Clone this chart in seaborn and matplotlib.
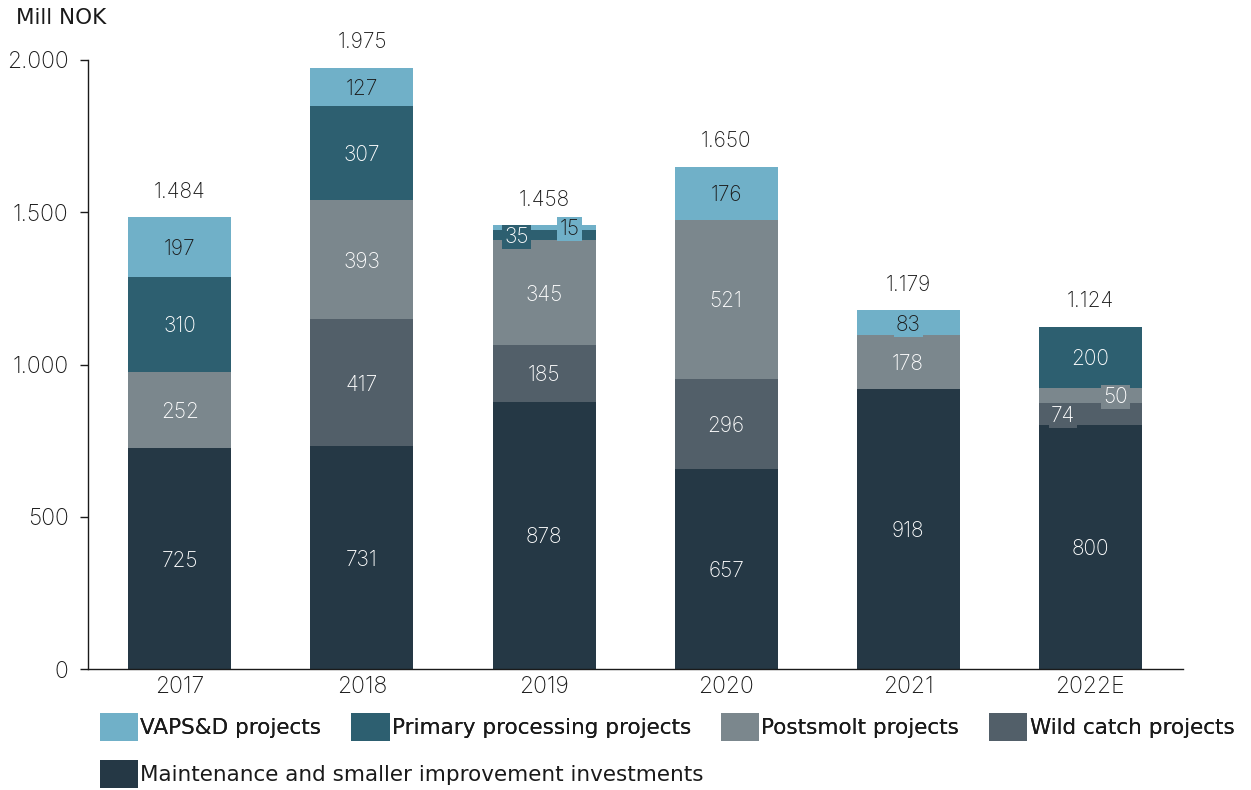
import matplotlib
matplotlib.use("Agg")
import matplotlib.pyplot as plt
import matplotlib.patches as mpatches
from matplotlib.ticker import FuncFormatter
import numpy as np
import pandas as pd
import seaborn as sns

# Investment by category, Mill NOK
years = ["2017", "2018", "2019", "2020", "2021", "2022E"]
maintenance = [725, 731, 878, 657, 918, 800]
wild_catch = [0, 417, 185, 296, 0, 74]
postsmolt = [252, 393, 345, 521, 178, 50]
primary = [310, 307, 35, 0, 0, 200]
vapsd = [197, 127, 15, 176, 83, 0]
totals = [1484, 1975, 1458, 1650, 1179, 1124]

names = ["Maintenance and smaller improvement investments", "Wild catch projects",
         "Postsmolt projects", "Primary processing projects", "VAPS&D projects"]
colors = ["#253845", "#525f69", "#7b878d", "#2d5f70", "#70b0c8"]
text_colors = ["white", "white", "white", "white", "#1a1a1a"]

# horizontal label offsets (in bar units) for thin segments whose labels overlap
label_offsets = {("2019", 3): -0.15, ("2019", 4): 0.14,
                 ("2022E", 1): -0.15, ("2022E", 2): 0.14}
boxed = {("2019", 3), ("2019", 4), ("2022E", 1), ("2022E", 2), ("2021", 4)}

sns.set_theme(style="white")
plt.rcParams["font.family"] = ["Inter", "DejaVu Sans"]
plt.rcParams["font.weight"] = "light"
wide_font = {"family": ["DejaVu Sans"], "weight": "normal", "size": 15.5}

fig = plt.figure(figsize=(12.51, 7.90), dpi=100)
ax = fig.add_axes([88 / 1251, 1 - 669 / 790, (1183 - 88) / 1251, (669 - 60) / 790])

layers = [maintenance, wild_catch, postsmolt, primary, vapsd]
cum = np.cumsum(np.array(layers), axis=0)
df = pd.DataFrame({"year": years})
bar_w = 0.566

# stacked bars drawn as overlapping cumulative sums, tallest first
for i in reversed(range(len(layers))):
    df["v"] = cum[i]
    sns.barplot(data=df, x="year", y="v", order=years, color=colors[i],
                saturation=1, width=bar_w, linewidth=0, ax=ax)

fs = 15
for j, yr in enumerate(years):
    for i, layer in enumerate(layers):
        val = layer[j]
        if val == 0:
            continue
        base = cum[i][j] - val
        yc = base + val / 2
        xo = label_offsets.get((yr, i), 0.0)
        kw = {}
        if (yr, i) in boxed:
            kw["bbox"] = dict(facecolor=colors[i], edgecolor="none", pad=1.5)
        ax.text(j + xo, yc, f"{val}", ha="center", va="center_baseline", fontsize=fs,
                color=text_colors[i], **kw)
    ax.text(j, totals[j] + 90, f"{totals[j]:,}".replace(",", "."), ha="center",
            va="center_baseline", fontsize=fs, color="#1a1a1a", clip_on=False)

ax.set_xlim(-0.505, 5.51)
ax.set_ylim(0, 2000)
ax.set_yticks([0, 500, 1000, 1500, 2000])
ax.yaxis.set_major_formatter(FuncFormatter(lambda v, p: f"{int(v):,}".replace(",", ".")))
ax.set_xlabel("")
ax.set_ylabel("")
for s in ["top", "right"]:
    ax.spines[s].set_visible(False)
for s in ["left", "bottom"]:
    ax.spines[s].set_color("#1a1a1a")
    ax.spines[s].set_linewidth(1.0)
ax.tick_params(axis="y", length=6, width=1, color="#1a1a1a", labelsize=16.5,
               labelcolor="#1a1a1a", pad=8, left=True)
ax.tick_params(axis="x", length=0, labelsize=16.5, labelcolor="#1a1a1a", pad=5)

fig.text(16 / 1251, 1 - 18 / 790, "Mill NOK", color="#1a1a1a",
         ha="left", va="center", **wide_font)

handles = [mpatches.Patch(facecolor=c, edgecolor="none") for c in colors]
row1 = [4, 3, 2, 1]
leg_kw = dict(frameon=False, prop=wide_font,
              handlelength=1.77, handleheight=1.63,
              handletextpad=0.1, columnspacing=1.4, borderpad=0, borderaxespad=0,
              labelcolor="#1a1a1a", loc="center left")
leg1 = fig.legend([handles[i] for i in row1], [names[i] for i in row1], ncol=4,
                  bbox_to_anchor=(100 / 1251, 1 - 727 / 790), **leg_kw)
leg2 = fig.legend([handles[0]], [names[0]], ncol=1,
                  bbox_to_anchor=(100 / 1251, 1 - 774 / 790), **leg_kw)
fig.add_artist(leg1)

fig.savefig("out.png", dpi=100)
